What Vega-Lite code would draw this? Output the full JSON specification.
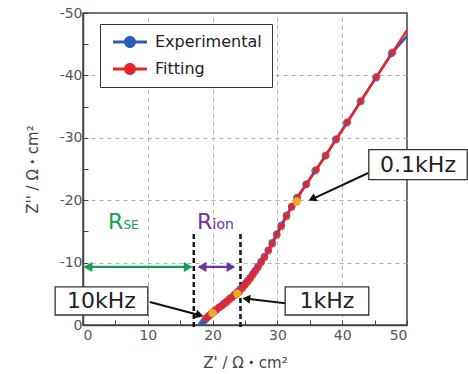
{
  "$schema": "https://vega.github.io/schema/vega-lite/v6.json",
  "width": 324,
  "height": 312,
  "autosize": "none",
  "padding": {"left": 83, "top": 13, "right": 61, "bottom": 49},
  "background": "white",
  "config": {
    "font": "DejaVu Sans",
    "view": {"stroke": "#444", "strokeWidth": 1.5},
    "axis": {
      "domainColor": "#444",
      "domainWidth": 1.5,
      "tickColor": "#444",
      "tickSize": -5,
      "labelColor": "#555",
      "labelFont": "DejaVu Sans",
      "labelFontSize": 14,
      "titleFont": "DejaVu Sans, Noto Sans CJK JP",
      "titleFontSize": 15,
      "titleFontWeight": "normal",
      "titleColor": "#444",
      "gridDash": [4, 4],
      "gridColor": "#b0b0b0",
      "gridWidth": 1
    }
  },
  "datasets": {
    "series": [
      {"s": "Experimental", "x": 18.3, "y": -0.1}, {"s": "Experimental", "x": 18.6, "y": -0.5}, {"s": "Experimental", "x": 18.9, "y": -0.9}, {"s": "Experimental", "x": 19.2, "y": -1.2}, {"s": "Experimental", "x": 19.5, "y": -1.5}, {"s": "Experimental", "x": 19.8, "y": -1.8}, {"s": "Experimental", "x": 20.2, "y": -2.1}, {"s": "Experimental", "x": 20.6, "y": -2.4}, {"s": "Experimental", "x": 21.0, "y": -2.8}, {"s": "Experimental", "x": 21.4, "y": -3.1}, {"s": "Experimental", "x": 21.8, "y": -3.5}, {"s": "Experimental", "x": 22.2, "y": -3.8}, {"s": "Experimental", "x": 22.6, "y": -4.2}, {"s": "Experimental", "x": 23.0, "y": -4.5}, {"s": "Experimental", "x": 23.4, "y": -4.9}, {"s": "Experimental", "x": 23.8, "y": -5.3}, {"s": "Experimental", "x": 24.2, "y": -5.7}, {"s": "Experimental", "x": 24.6, "y": -6.1}, {"s": "Experimental", "x": 25.0, "y": -6.6}, {"s": "Experimental", "x": 25.4, "y": -7.1}, {"s": "Experimental", "x": 25.8, "y": -7.6}, {"s": "Experimental", "x": 26.2, "y": -8.2}, {"s": "Experimental", "x": 26.6, "y": -8.8}, {"s": "Experimental", "x": 27.0, "y": -9.4}, {"s": "Experimental", "x": 27.5, "y": -10.2}, {"s": "Experimental", "x": 28.0, "y": -11.0}, {"s": "Experimental", "x": 28.6, "y": -12.0}, {"s": "Experimental", "x": 29.2, "y": -13.2}, {"s": "Experimental", "x": 29.9, "y": -14.6}, {"s": "Experimental", "x": 30.6, "y": -16.0}, {"s": "Experimental", "x": 31.4, "y": -17.6}, {"s": "Experimental", "x": 32.2, "y": -19.0}, {"s": "Experimental", "x": 33.0, "y": -20.4}, {"s": "Experimental", "x": 34.4, "y": -22.5}, {"s": "Experimental", "x": 35.8, "y": -24.7}, {"s": "Experimental", "x": 37.4, "y": -27.1}, {"s": "Experimental", "x": 39.0, "y": -29.7}, {"s": "Experimental", "x": 40.7, "y": -32.4}, {"s": "Experimental", "x": 42.8, "y": -35.8}, {"s": "Experimental", "x": 45.2, "y": -39.6}, {"s": "Experimental", "x": 47.6, "y": -43.5}, {"s": "Experimental", "x": 50.6, "y": -47.0},
      {"s": "Fitting", "x": 19.0, "y": -1.1}, {"s": "Fitting", "x": 19.4, "y": -1.5}, {"s": "Fitting", "x": 19.8, "y": -1.8}, {"s": "Fitting", "x": 20.2, "y": -2.2}, {"s": "Fitting", "x": 20.6, "y": -2.5}, {"s": "Fitting", "x": 21.0, "y": -2.8}, {"s": "Fitting", "x": 21.4, "y": -3.1}, {"s": "Fitting", "x": 21.8, "y": -3.4}, {"s": "Fitting", "x": 22.2, "y": -3.7}, {"s": "Fitting", "x": 22.6, "y": -4.1}, {"s": "Fitting", "x": 23.0, "y": -4.4}, {"s": "Fitting", "x": 23.4, "y": -4.8}, {"s": "Fitting", "x": 23.8, "y": -5.1}, {"s": "Fitting", "x": 24.2, "y": -5.5}, {"s": "Fitting", "x": 24.6, "y": -5.9}, {"s": "Fitting", "x": 25.0, "y": -6.4}, {"s": "Fitting", "x": 25.4, "y": -6.9}, {"s": "Fitting", "x": 25.8, "y": -7.4}, {"s": "Fitting", "x": 26.2, "y": -8.0}, {"s": "Fitting", "x": 26.6, "y": -8.6}, {"s": "Fitting", "x": 27.0, "y": -9.2}, {"s": "Fitting", "x": 27.5, "y": -10.0}, {"s": "Fitting", "x": 28.0, "y": -10.8}, {"s": "Fitting", "x": 28.6, "y": -11.9}, {"s": "Fitting", "x": 29.2, "y": -13.0}, {"s": "Fitting", "x": 29.9, "y": -14.4}, {"s": "Fitting", "x": 30.6, "y": -15.8}, {"s": "Fitting", "x": 31.4, "y": -17.4}, {"s": "Fitting", "x": 32.2, "y": -18.9}, {"s": "Fitting", "x": 33.1, "y": -20.4}, {"s": "Fitting", "x": 34.5, "y": -22.6}, {"s": "Fitting", "x": 36.0, "y": -24.9}, {"s": "Fitting", "x": 37.5, "y": -27.2}, {"s": "Fitting", "x": 39.1, "y": -29.8}, {"s": "Fitting", "x": 40.8, "y": -32.5}, {"s": "Fitting", "x": 42.9, "y": -35.9}, {"s": "Fitting", "x": 45.3, "y": -39.8}, {"s": "Fitting", "x": 47.8, "y": -43.7}, {"s": "Fitting", "x": 50.6, "y": -48.2}
    ]
  },
  "encoding": {
    "x": {
      "field": "x", "type": "quantitative",
      "scale": {"domain": [0, 50], "nice": false, "zero": false},
      "axis": {
        "title": "Z' / Ω・cm²",
        "values": [0, 5, 10, 15, 20, 25, 30, 35, 40, 45, 50],
        "labelExpr": "datum.value % 10 === 0 ? datum.label : ''",
        "labelPadding": 8,
        "titlePadding": 13,
        "grid": true,
        "gridOpacity": {"condition": {"test": "datum.value % 10 === 0 && datum.value > 0 && datum.value < 50", "value": 1}, "value": 0}
      }
    },
    "y": {
      "field": "y", "type": "quantitative",
      "scale": {"domain": [-50, 0], "nice": false, "zero": false, "reverse": true},
      "axis": {
        "title": "Z'' / Ω・cm²",
        "values": [0, -5, -10, -15, -20, -25, -30, -35, -40, -45, -50],
        "labelExpr": "datum.value % 10 === 0 ? replace(datum.label, '−', '-') : ''",
        "labelPadding": 6,
        "titlePadding": 19,
        "grid": true,
        "gridOpacity": {"condition": {"test": "datum.value % 10 === 0 && datum.value < 0 && datum.value > -50", "value": 1}, "value": 0}
      }
    }
  },
  "layer": [
    {
      "data": {"values": [{"x": 17.1, "y": -14.6, "y2": 0.8}, {"x": 24.3, "y": -14.6, "y2": 0.8}]},
      "mark": {"type": "rule", "color": "#111", "strokeWidth": 2.5, "strokeDash": [5, 3], "clip": false},
      "encoding": {"y2": {"field": "y2"}}
    },
    {
      "data": {"name": "series"},
      "mark": {"type": "line", "strokeWidth": 2.5, "clip": true},
      "encoding": {
        "color": {"field": "s", "type": "nominal", "scale": {"domain": ["Experimental", "Fitting"], "range": ["#2b5cb6", "#e8262a"]}, "legend": {"title": null, "orient": "none", "legendX": 17, "legendY": 11, "strokeColor": "#333", "fillColor": "white", "padding": 10, "labelFont": "DejaVu Sans", "labelFontSize": 16, "labelColor": "#222", "labelExpr": "datum.label + '\u00a0\u00a0\u00a0\u00a0'", "symbolType": "M-2.83,-0.25H2.83V0.25H-2.83Z M1,0A1,1,0,1,1,-1,0A1,1,0,1,1,1,0Z", "symbolSize": 144, "symbolStrokeWidth": 0, "symbolOpacity": 1, "symbolOffset": 12, "labelOffset": 17, "rowPadding": 11}},
        "detail": {"field": "s"}
      }
    },
    {
      "data": {"name": "series"},
      "mark": {"type": "point", "filled": true, "size": 55, "opacity": 0.8, "clip": true},
      "encoding": {
        "color": {"field": "s", "type": "nominal", "legend": {"title": null, "orient": "none", "legendX": 17, "legendY": 11, "strokeColor": "#333", "fillColor": "white", "padding": 10, "labelFont": "DejaVu Sans", "labelFontSize": 16, "labelColor": "#222", "labelExpr": "datum.label + '\u00a0\u00a0\u00a0\u00a0'", "symbolType": "M-2.83,-0.25H2.83V0.25H-2.83Z M1,0A1,1,0,1,1,-1,0A1,1,0,1,1,1,0Z", "symbolSize": 144, "symbolStrokeWidth": 0, "symbolOpacity": 1, "symbolOffset": 12, "labelOffset": 17, "rowPadding": 11}}
      }
    },
    {
      "data": {"values": [{"x": 20.0, "y": -1.9}, {"x": 23.8, "y": -5.0}, {"x": 33.0, "y": -19.8}]},
      "mark": {"type": "point", "filled": true, "size": 70, "opacity": 1, "color": "#f5a623"}
    },
    {
      "data": {"values": [{"x": 0.3, "x2": 16.7, "y": -9.3}]},
      "mark": {"type": "rule", "color": "#12a050", "strokeWidth": 2.2, "clip": false},
      "encoding": {"x2": {"field": "x2"}}
    },
    {
      "data": {"values": [{"x": 0.77, "y": -9.3}]},
      "mark": {"type": "point", "shape": "triangle-left", "filled": true, "size": 100, "opacity": 1, "color": "#12a050"}
    },
    {
      "data": {"values": [{"x": 16.23, "y": -9.3}]},
      "mark": {"type": "point", "shape": "triangle-right", "filled": true, "size": 100, "opacity": 1, "color": "#12a050"}
    },
    {
      "data": {"values": [{"x": 17.9, "x2": 23.3, "y": -9.3}]},
      "mark": {"type": "rule", "color": "#7030a0", "strokeWidth": 2.2, "clip": false},
      "encoding": {"x2": {"field": "x2"}}
    },
    {
      "data": {"values": [{"x": 18.37, "y": -9.3}]},
      "mark": {"type": "point", "shape": "triangle-left", "filled": true, "size": 100, "opacity": 1, "color": "#7030a0"}
    },
    {
      "data": {"values": [{"x": 22.83, "y": -9.3}]},
      "mark": {"type": "point", "shape": "triangle-right", "filled": true, "size": 100, "opacity": 1, "color": "#7030a0"}
    },
    {
      "data": {"values": [{"x": 3.86, "y": -15.4, "t": "R"}]},
      "mark": {"type": "text", "align": "left", "baseline": "alphabetic", "fontSize": 22, "color": "#12a050", "clip": false},
      "encoding": {"text": {"field": "t"}}
    },
    {
      "data": {"values": [{"x": 6.25, "y": -15.4, "t": "SE"}]},
      "mark": {"type": "text", "align": "left", "baseline": "alphabetic", "fontSize": 12, "color": "#12a050", "clip": false},
      "encoding": {"text": {"field": "t"}}
    },
    {
      "data": {"values": [{"x": 17.6, "y": -15.4, "t": "R"}]},
      "mark": {"type": "text", "align": "left", "baseline": "alphabetic", "fontSize": 22, "color": "#7030a0", "clip": false},
      "encoding": {"text": {"field": "t"}}
    },
    {
      "data": {"values": [{"x": 20.0, "y": -15.4, "t": "ion"}]},
      "mark": {"type": "text", "align": "left", "baseline": "alphabetic", "fontSize": 14, "color": "#7030a0", "clip": false},
      "encoding": {"text": {"field": "t"}}
    },
    {
      "data": {"values": [
        {"x": 10.3, "y": -3.7, "x2": 17.9, "y2": -1.6},
        {"x": 31.2, "y": -3.5, "x2": 25.0, "y2": -4.25},
        {"x": 44.1, "y": -24.4, "x2": 35.6, "y2": -20.3}
      ]},
      "mark": {"type": "rule", "color": "#111", "strokeWidth": 2, "clip": false},
      "encoding": {"x2": {"field": "x2"}, "y2": {"field": "y2"}}
    },
    {
      "data": {"values": [{"x": 18.0, "y": -1.58}]},
      "mark": {"type": "point", "shape": "triangle-right", "angle": 16, "filled": true, "size": 80, "opacity": 1, "color": "#111"}
    },
    {
      "data": {"values": [{"x": 25.2, "y": -4.2}]},
      "mark": {"type": "point", "shape": "triangle-left", "angle": 7, "filled": true, "size": 80, "opacity": 1, "color": "#111"}
    },
    {
      "data": {"values": [{"x": 35.36, "y": -20.2}]},
      "mark": {"type": "point", "shape": "triangle-left", "angle": -25, "filled": true, "size": 80, "opacity": 1, "color": "#111"}
    },
    {
      "data": {"values": [
        {"x": -4.3, "x2": 10.0, "y": -6.1, "y2": -1.6},
        {"x": 31.2, "x2": 44.1, "y": -6.1, "y2": -1.6},
        {"x": 44.1, "x2": 59.3, "y": -28.1, "y2": -23.3}
      ]},
      "mark": {"type": "rect", "fill": "white", "stroke": "#333", "strokeWidth": 1.3, "clip": false},
      "encoding": {"x2": {"field": "x2"}, "y2": {"field": "y2"}}
    },
    {
      "data": {"values": [
        {"x": 2.85, "y": -3.86, "t": "10kHz"},
        {"x": 37.65, "y": -3.86, "t": "1kHz"},
        {"x": 51.7, "y": -25.7, "t": "0.1kHz"}
      ]},
      "mark": {"type": "text", "align": "center", "baseline": "middle", "fontSize": 22, "color": "#222", "clip": false},
      "encoding": {"text": {"field": "t"}}
    }
  ]
}
